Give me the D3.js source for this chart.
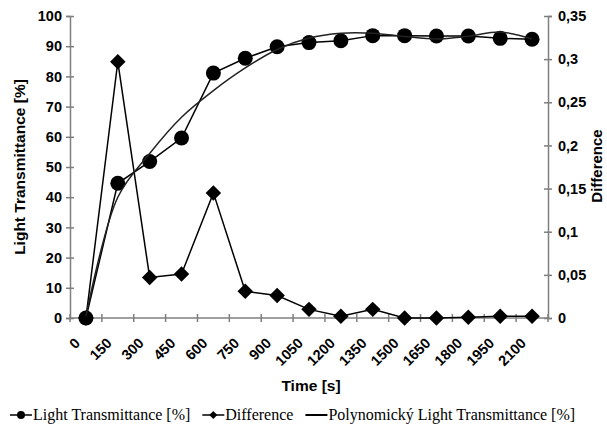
<!DOCTYPE html>
<html>
<head>
<meta charset="utf-8">
<script src="https://cdn.jsdelivr.net/npm/d3@7"></script>
<style>
  body { margin: 0; background: #fff; }
  svg text { font-family: "Liberation Sans", Arial, sans-serif; font-weight: bold; fill: #000; }
  .legend text { font-family: "Liberation Serif", "Times New Roman", serif; font-weight: normal; }
</style>
</head>
<body>
<div id="chart"></div>
<script>
// data
const times = [0, 150, 300, 450, 600, 750, 900, 1050, 1200, 1350, 1500, 1650, 1800, 1950, 2100];
const transmittance = [0, 44.6, 51.8, 59.6, 81.1, 86.0, 89.8, 91.2, 91.8, 93.5, 93.5, 93.4, 93.4, 92.6, 92.3];
const difference = [0, 0.297, 0.047, 0.051, 0.145, 0.031, 0.026, 0.010, 0.002, 0.010, 0, 0, 0.001, 0.002, 0.002];
// polynomial trendline, read at each category
const trend = [0.5, 40, 54.5, 66.5, 75.3, 82.8, 88.9, 92.7, 94.3, 94.3, 93.2, 92.4, 93.3, 94.7, 92.4];
const leftTicks = [0, 10, 20, 30, 40, 50, 60, 70, 80, 90, 100];
const rightTicks = [0, 0.05, 0.1, 0.15, 0.2, 0.25, 0.3, 0.35];
const legendLabels = ["Light Transmittance [%]", "Difference", "Polynomický Light Transmittance [%]"];

const W = 607, H = 428;
const margin = {top: 16, right: 59, bottom: 110, left: 70};
const width = W - margin.left - margin.right;
const height = H - margin.top - margin.bottom;

const svg = d3.select("#chart").append("svg")
    .attr("width", W)
    .attr("height", H);

const g = svg.append("g")
    .attr("transform", "translate(" + margin.left + "," + margin.top + ")");

const x = d3.scaleBand().domain(times).range([0, width]).padding(0);
const yL = d3.scaleLinear().domain([0, 100]).range([height, 0]);
const yR = d3.scaleLinear().domain([0, 0.35]).range([height, 0]);
const cx = d => x(d) + x.bandwidth() / 2;

const comma = d3.formatLocale({decimal: ",", thousands: ".", grouping: [3], currency: ["", ""]}).format("~g");
const axisColor = "#7f7f7f";

// left axis
const leftAxis = g.append("g")
    .call(d3.axisLeft(yL).tickValues(leftTicks).tickSize(4).tickPadding(4));
leftAxis.select(".domain").attr("stroke", axisColor).attr("stroke-width", 1.5);
leftAxis.selectAll(".tick line").attr("x1", 4).attr("stroke", axisColor).attr("stroke-width", 1.5);
leftAxis.selectAll(".tick text").attr("font-size", 14.5);
leftAxis.attr("font-family", null);

// right axis
const rightAxis = g.append("g")
    .attr("transform", "translate(" + width + ",0)")
    .call(d3.axisRight(yR).tickValues(rightTicks).tickFormat(comma).tickSize(4).tickPadding(6));
rightAxis.select(".domain").attr("stroke", axisColor).attr("stroke-width", 1.5);
rightAxis.selectAll(".tick line").attr("x1", -4).attr("stroke", axisColor).attr("stroke-width", 1.5);
rightAxis.selectAll(".tick text").attr("font-size", 14.5);
rightAxis.attr("font-family", null);

// bottom axis: line, ticks between categories, rotated labels
const xAxis = g.append("g").attr("transform", "translate(0," + height + ")");
xAxis.append("line")
    .attr("x1", 0).attr("x2", width)
    .attr("stroke", axisColor).attr("stroke-width", 1.5);
xAxis.selectAll("line.tk")
    .data(d3.range(times.length + 1))
    .join("line")
    .attr("class", "tk")
    .attr("x1", k => k * x.step()).attr("x2", k => k * x.step())
    .attr("y1", -4).attr("y2", 4)
    .attr("stroke", axisColor).attr("stroke-width", 1.5);
xAxis.selectAll("text")
    .data(times)
    .join("text")
    .attr("font-size", 14.5)
    .attr("text-anchor", "end")
    .attr("transform", d => "translate(" + (cx(d) - 5) + ",26) rotate(-45)")
    .text(d => d);

// axis titles
svg.append("text")
    .attr("font-size", 15.5)
    .attr("text-anchor", "middle")
    .attr("transform", "translate(25,167) rotate(-90)")
    .text("Light Transmittance [%]");
svg.append("text")
    .attr("font-size", 15)
    .attr("text-anchor", "middle")
    .attr("transform", "translate(602,166) rotate(-90)")
    .text("Difference");
svg.append("text")
    .attr("font-size", 15.5)
    .attr("text-anchor", "middle")
    .attr("x", 311)
    .attr("y", 391)
    .text("Time [s]");

// series
const diamond = d3.symbol().type(d3.symbolSquare).size(120);

const diffLine = d3.line()
    .x((d, i) => cx(times[i]))
    .y(d => yR(d));
g.append("path")
    .datum(difference)
    .attr("d", diffLine)
    .attr("fill", "none").attr("stroke", "#000").attr("stroke-width", 1.5);
g.selectAll("path.diff")
    .data(difference)
    .join("path")
    .attr("class", "diff")
    .attr("d", diamond)
    .attr("transform", (d, i) => "translate(" + cx(times[i]) + "," + yR(d) + ") rotate(45)")
    .attr("fill", "#000");

const ltLine = d3.line()
    .x((d, i) => cx(times[i]))
    .y(d => yL(d));
g.append("path")
    .datum(transmittance)
    .attr("d", ltLine)
    .attr("fill", "none").attr("stroke", "#000").attr("stroke-width", 1.5);
g.selectAll("circle.lt")
    .data(transmittance)
    .join("circle")
    .attr("class", "lt")
    .attr("cx", (d, i) => cx(times[i]))
    .attr("cy", d => yL(d))
    .attr("r", 7.5)
    .attr("fill", "#000");

const trendLine = d3.line()
    .x((d, i) => cx(times[i]))
    .y(d => yL(d))
    .curve(d3.curveCatmullRom.alpha(0.5));
g.append("path")
    .datum(trend)
    .attr("d", trendLine)
    .attr("fill", "none").attr("stroke", "#222").attr("stroke-width", 1.5);

// legend
const legend = svg.append("g").attr("class", "legend")
    .attr("transform", "translate(10,415)");
let lx = 0;
legendLabels.forEach((label, i) => {
    const item = legend.append("g").attr("transform", "translate(" + lx + ",0)");
    item.append("line")
        .attr("x1", 0).attr("x2", 22)
        .attr("stroke", "#000").attr("stroke-width", i === 2 ? 2 : 1.5);
    if (i === 0) {
        item.append("circle").attr("cx", 11).attr("r", 4).attr("fill", "#000");
    } else if (i === 1) {
        item.append("path")
            .attr("d", d3.symbol().type(d3.symbolSquare).size(32))
            .attr("transform", "translate(11,0) rotate(45)")
            .attr("fill", "#000");
    }
    const t = item.append("text")
        .attr("x", 23)
        .attr("y", 5)
        .attr("font-size", 16)
        .text(label);
    lx += 23 + t.node().getComputedTextLength() + 12;
});
</script>
</body>
</html>
